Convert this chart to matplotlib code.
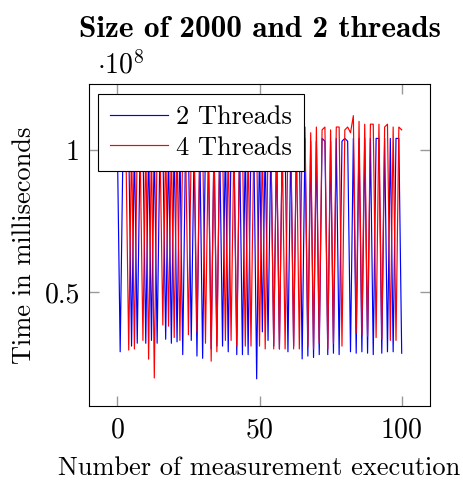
import matplotlib.pyplot as plt
import numpy as np

plt.rcParams['font.family'] = 'serif'
plt.rcParams['font.serif'] = ['cmr10']
plt.rcParams['mathtext.fontset'] = 'cm'
plt.rcParams['axes.formatter.use_mathtext'] = True

# run index and times (in units of 1e8 ms)
runs = np.arange(0, 101)

two_threads = [
    1.03, 0.29, 1.02, 1.01, 1.03, 0.31, 1.02, 0.32, 1.01, 1.02,
    0.32, 1.03, 0.33, 1.02, 0.32, 1.03, 1.02, 0.334, 1.01, 0.32,
    1.03, 0.325, 1.02, 0.28, 1.03, 1.02, 0.33, 1.01, 0.275, 1.02,
    0.267, 1.03, 1.02, 0.30, 1.03, 0.31, 1.02, 0.31, 1.03, 0.29,
    1.02, 1.01, 0.28, 1.03, 0.28, 1.02, 0.28, 1.03, 1.02, 0.195,
    1.03, 0.36, 1.02, 0.33, 1.03, 0.31, 1.02, 0.30, 1.03, 1.02,
    0.29, 1.03, 0.31, 1.02, 1.03, 0.265, 1.04, 0.275, 1.03, 0.27,
    1.03, 0.28, 1.04, 1.03, 0.28, 1.03, 0.285, 1.04, 0.28, 1.03,
    1.04, 1.03, 0.29, 1.04, 0.285, 1.04, 0.29, 1.04, 0.285, 1.04,
    0.28, 1.04, 1.04, 0.285, 1.04, 0.29, 1.04, 0.29, 1.04, 1.04,
    0.285,
]

four_threads = [
    1.02, 1.01, 1.03, 1.02, 0.296, 1.03, 0.30, 1.02, 1.01, 0.33,
    1.03, 0.264, 1.02, 0.198, 1.03, 1.02, 0.384, 1.03, 0.38, 1.02,
    0.34, 1.03, 0.33, 1.02, 1.03, 0.35, 1.02, 1.03, 0.36, 1.02,
    1.03, 0.32, 1.02, 0.257, 1.03, 0.29, 1.02, 1.03, 0.33, 1.02,
    0.33, 1.03, 0.31, 1.02, 1.03, 0.31, 1.02, 0.31, 1.03, 1.02,
    0.31, 1.03, 0.30, 1.02, 1.03, 0.30, 1.04, 0.30, 1.03, 0.30,
    1.04, 1.03, 0.30, 1.05, 0.30, 1.07, 1.08, 0.31, 1.06, 0.30,
    1.08, 0.32, 1.07, 1.08, 0.30, 1.07, 0.32, 1.08, 1.08, 0.31,
    1.07, 1.08, 1.06, 1.12, 0.355, 1.10, 0.35, 1.09, 0.345, 1.09,
    1.09, 0.34, 1.09, 0.335, 1.08, 1.09, 0.33, 1.08, 0.33, 1.08,
    1.07,
]

fig = plt.figure(figsize=(4.63, 4.82), dpi=100)
ax = fig.add_axes([0.192, 0.158, 0.737, 0.667])

ax.plot(runs, two_threads, color='blue', lw=0.85, label='2 Threads')
ax.plot(runs, four_threads, color='red', lw=0.85, label='4 Threads')

ax.set_xlim(-10, 110)
ax.set_ylim(0.1, 1.23)
ax.set_xticks([0, 50, 100])
ax.set_yticks([0.5, 1.0])
ax.set_yticklabels(['0.5', '1'])
ax.tick_params(direction='in', top=True, right=True, color='0.6',
               length=7, width=1.0, labelsize=20)
ax.tick_params(axis='x', pad=8)
ax.tick_params(axis='y', pad=6.5)
for s in ax.spines.values():
    s.set_linewidth(0.8)

ax.set_title('Size of 2000 and 2 threads', fontsize=22.5,
             family='cmb10', pad=34)
ax.text(0.025, 1.015, r'$\cdot 10^{8}$', transform=ax.transAxes,
        fontsize=20, ha='left', va='bottom')
ax.set_xlabel('Number of measurement execution', fontsize=19, labelpad=9)
ax.set_ylabel('Time in milliseconds', fontsize=19, labelpad=6)

leg = ax.legend(loc='upper left', fontsize=19, fancybox=False,
                edgecolor='black', framealpha=1, handlelength=2.2,
                borderaxespad=0.35, borderpad=0.45, labelspacing=0.25,
                handletextpad=0.3)
leg.get_frame().set_linewidth(0.8)

fig.savefig('out.png', dpi=100)
